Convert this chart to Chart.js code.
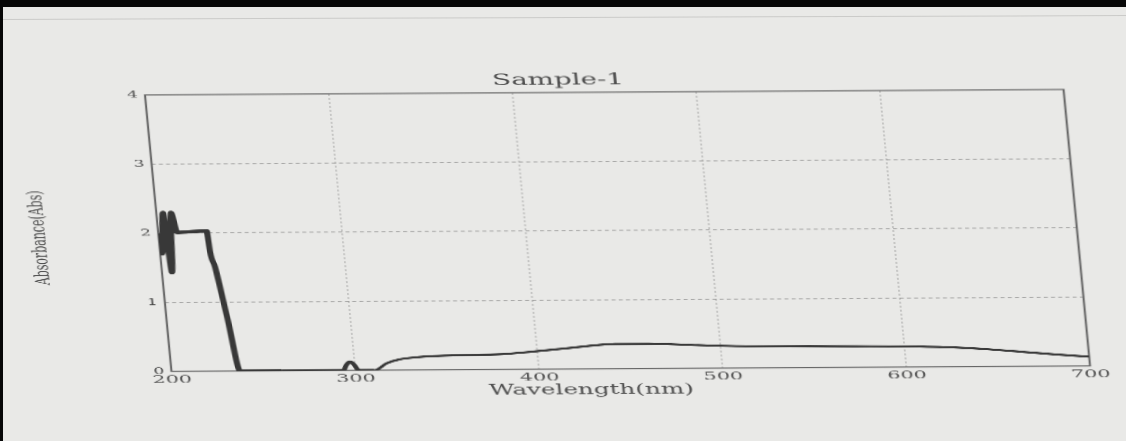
<!DOCTYPE html>
<html>
<head>
<meta charset="utf-8">
<title>Sample-1</title>
<script src="https://cdn.jsdelivr.net/npm/chart.js@4/dist/chart.umd.min.js"></script>
<style>
  html, body { margin: 0; padding: 0; }
  body {
    width: 1126px; height: 441px; overflow: hidden; position: relative;
    background: #e9e9e7;
  }
  .edge-top { position: absolute; left: 0; top: 0; width: 1126px; height: 7px; background: #070707; }
  .edge-left { position: absolute; left: 0; top: 0; width: 3px; height: 441px; background: #070707; }
  .streak { position: absolute; left: 0; top: 19px; width: 1126px; height: 1px; background: #cbcbc9;
            transform-origin: 0 0; transform: rotate(-0.2deg); }
  /* the printed sheet sits slightly sheared and widened on the page */
  #plot {
    position: absolute; left: 0; top: 0;
    transform-origin: 0 0;
    transform: matrix(1.80098, -0.010784, 0.095324, 0.994604, -34.768, 5.5155);
  }
</style>
</head>
<body>
<div class="streak"></div>
<div class="edge-top"></div>
<div class="edge-left"></div>
<canvas id="plot" width="626" height="441"></canvas>
<script>
// UV-Vis absorbance spectrum
const wavelength = [200, 201.0, 203.6, 205.4, 208.0, 210.3, 218, 226.5, 227.2, 229.1, 233.2, 237.3,
  260, 293.5, 295.5, 297.5, 299.5, 302, 310.5, 317.5, 324.8, 333.8, 342.7, 361, 379, 397,
  415.5, 433.7, 442.8, 461, 488, 506, 537, 573, 600, 628, 646, 664, 682, 700];
const absorbance = [2.0, 1.70, 2.30, 1.43, 2.30, 2.01, 2.02, 2.03, 1.73, 1.51, 0.76, 0,
  0, 0, 0.08, 0.125, 0.09, 0, 0, 0.10, 0.156, 0.184, 0.20, 0.213, 0.22, 0.255,
  0.30, 0.346, 0.36, 0.36, 0.335, 0.32, 0.31, 0.305, 0.30, 0.28, 0.25, 0.21, 0.17, 0.135];

const wavelengthTicks = [200, 300, 400, 500, 600, 700];
const absorbanceTicks = [0, 1, 2, 3, 4];

const chartTitle = 'Sample-1';
const xTitle = 'Wavelength(nm)';
const yTitle = 'Absorbance(Abs)';

const points = wavelength.map((w, i) => ({ x: w, y: absorbance[i] }));

Chart.defaults.font.family = "'DejaVu Serif', serif";

// frame round the plot area, and the three captions
const framePlugin = {
  id: 'frameAndCaptions',
  beforeDatasetsDraw(chart) {
    const { ctx, chartArea: a } = chart;
    ctx.save();
    ctx.strokeStyle = '#666666';
    ctx.lineWidth = 1.15;
    ctx.strokeRect(a.left, a.top, a.right - a.left, a.bottom - a.top);
    ctx.restore();
  },
  afterDraw(chart) {
    const { ctx, chartArea: a } = chart;
    const w = a.right - a.left;
    ctx.save();
    ctx.fillStyle = '#4e4e4e';
    ctx.textAlign = 'center';
    ctx.textBaseline = 'middle';
    ctx.font = "15.4px 'DejaVu Serif', serif";
    ctx.fillText(chartTitle, a.left + 0.451 * w, a.top - 12);
    ctx.font = "13.7px 'DejaVu Serif', serif";
    ctx.fillText(xTitle, a.left + 0.455 * w, a.bottom + 21.5);
    ctx.translate(29, (a.top + a.bottom) / 2 + 4);
    ctx.rotate(-Math.PI / 2);
    ctx.font = "11px 'DejaVu Serif', serif";
    ctx.fillText(yTitle, 0, 0);
    ctx.restore();
  }
};

new Chart(document.getElementById('plot'), {
  type: 'line',
  data: {
    datasets: [{
      data: points,
      borderColor: '#383838',
      borderWidth: 2.1,
      pointRadius: 0,
      cubicInterpolationMode: 'monotone',
      segment: {
        borderWidth: c => (c.p0.parsed.x < 240 ? 3.4 : (c.p0.parsed.x < 305 ? 2.8 : 2.1))
      }
    }]
  },
  options: {
    responsive: false,
    animation: false,
    devicePixelRatio: 2,
    layout: { padding: { left: 0, right: 21, top: 91, bottom: 42 } },
    plugins: { legend: { display: false }, title: { display: false }, tooltip: { enabled: false } },
    scales: {
      x: {
        type: 'linear', min: 200, max: 700,
        afterBuildTicks: s => { s.ticks = wavelengthTicks.map(v => ({ value: v })); },
        afterFit: s => { s.height = 30; },
        grid: { color: 'rgba(120,120,120,0.55)', lineWidth: 0.6, drawTicks: false },
        border: { display: false, dash: [2, 2] },
        ticks: { color: '#555555', font: { size: 11.5 }, padding: 1.8, maxRotation: 0, autoSkip: false }
      },
      y: {
        type: 'linear', min: 0, max: 4,
        afterBuildTicks: s => { s.ticks = absorbanceTicks.map(v => ({ value: v })); },
        afterFit: s => { s.width = 95; },
        grid: { color: 'rgba(110,110,110,0.7)', lineWidth: 0.7, drawTicks: false },
        border: { display: false, dash: [2.2, 1.8] },
        ticks: { color: '#4a4a4a', font: { size: 9.5 }, padding: 4 }
      }
    }
  },
  plugins: [framePlugin]
});
</script>
</body>
</html>
